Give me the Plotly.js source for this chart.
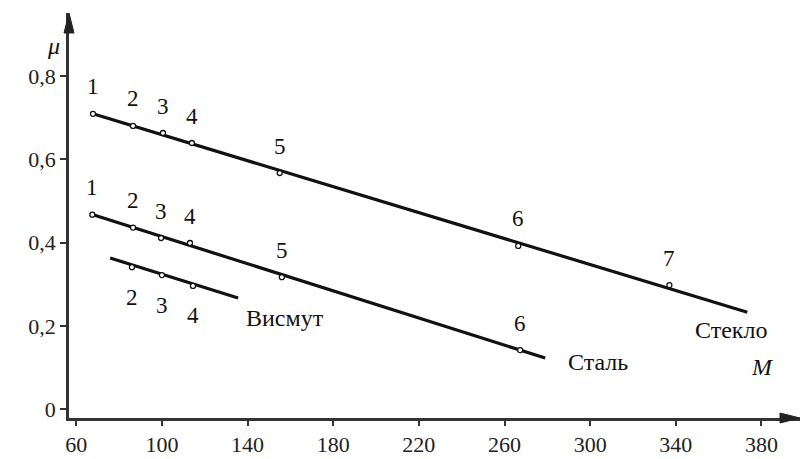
<!DOCTYPE html>
<html><head><meta charset="utf-8">
<script src="https://cdn.plot.ly/plotly-3.0.1.min.js"></script>
</head><body style="margin:0;padding:0;background:#fff">
<div id="chart" style="width:803px;height:459px"></div>
<script>
// Стекло (glass)
const glassM  = [67.8, 86.5, 100.5, 114, 155, 266.4, 337];
const glassMu = [0.709, 0.680, 0.663, 0.639, 0.567, 0.392, 0.298];
const glassLabels = ['1','2','3','4','5','6','7'];
const glassLineM  = [67.8, 373.4];
const glassLineMu = [0.709, 0.233];
// Сталь (steel)
const steelM  = [67.5, 86.5, 99.6, 113.1, 156, 267.3];
const steelMu = [0.467, 0.436, 0.411, 0.399, 0.317, 0.142];
const steelLabels = ['1','2','3','4','5','6'];
const steelLineM  = [66.4, 279];
const steelLineMu = [0.469, 0.123];
// Висмут (bismuth)
const bismM  = [86, 100, 114.5];
const bismMu = [0.341, 0.322, 0.296];
const bismLabels = ['2','3','4'];
const bismLineM  = [75.8, 135.6];
const bismLineMu = [0.363, 0.267];

const xTicks = [60, 100, 140, 180, 220, 260, 300, 340, 380];
const yTicks = [0, 0.2, 0.4, 0.6, 0.8];
const yTickText = ['0', '0,2', '0,4', '0,6', '0,8'];

const FONT = 'Liberation Serif';
const INK = '#111';

function lineTrace(x, y) {
  return {x: x, y: y, mode: 'lines', type: 'scatter', hoverinfo: 'skip',
          line: {color: INK, width: 3.2}, showlegend: false};
}
function pointTrace(x, y) {
  return {x: x, y: y, mode: 'markers', type: 'scatter', hoverinfo: 'skip',
          marker: {symbol: 'circle', size: 5, color: '#fff', line: {color: INK, width: 1.3}},
          showlegend: false};
}

const traces = [
  lineTrace(glassLineM, glassLineMu), pointTrace(glassM, glassMu),
  lineTrace(steelLineM, steelLineMu), pointTrace(steelM, steelMu),
  lineTrace(bismLineM, bismLineMu), pointTrace(bismM, bismMu)
];

const annotations = [];
function numLabels(xs, ys, labs, shift) {
  for (let i = 0; i < xs.length; i++) {
    annotations.push({x: xs[i], y: ys[i], xref: 'x', yref: 'y', text: labs[i],
      showarrow: false, yshift: shift, font: {family: FONT, size: 23, color: INK}});
  }
}
numLabels(glassM, glassMu, glassLabels, 27);
numLabels(steelM, steelMu, steelLabels, 27);
numLabels(bismM, bismMu, bismLabels, -30);

annotations.push({x: 157.5, y: 0.219, xref: 'x', yref: 'y', text: 'Висмут', showarrow: false,
  font: {family: FONT, size: 24, color: INK}});
annotations.push({x: 303.8, y: 0.113, xref: 'x', yref: 'y', text: 'Сталь', showarrow: false,
  font: {family: FONT, size: 24, color: INK}});
annotations.push({x: 366, y: 0.19, xref: 'x', yref: 'y', text: 'Стекло', showarrow: false,
  font: {family: FONT, size: 24, color: INK}});
annotations.push({x: -0.033, y: 0.956, xref: 'paper', yref: 'paper', text: '<i>μ</i>', showarrow: false,
  font: {family: FONT, size: 24, color: INK}});
annotations.push({x: 0.967, y: 0.089, xref: 'paper', yref: 'paper', text: '<i>M</i>', showarrow: false,
  font: {family: FONT, size: 24, color: INK}});

const shapes = [
  {type: 'path', xref: 'paper', yref: 'paper', xsizemode: 'pixel', ysizemode: 'pixel',
   xanchor: 0, yanchor: 1, path: 'M -5 -20 L 0 0 L 5 -20 Z',
   fillcolor: '#222', line: {color: '#222', width: 1}},
  {type: 'path', xref: 'paper', yref: 'paper', xsizemode: 'pixel', ysizemode: 'pixel',
   xanchor: 1, yanchor: 0, path: 'M -20 5 L 0 0 L -20 -5 Z',
   fillcolor: '#222', line: {color: '#222', width: 1}}
];

const layout = {
  width: 803, height: 459,
  margin: {l: 69, r: 3, t: 13, b: 41},
  paper_bgcolor: '#fff', plot_bgcolor: '#fff',
  showlegend: false,
  font: {family: FONT, size: 22, color: '#222'},
  xaxis: {range: [56.6, 398], tickvals: xTicks, ticks: 'outside', ticklen: 5, tickwidth: 1.5,
          tickcolor: '#333', showline: true, linecolor: '#333', linewidth: 2.5,
          showgrid: false, zeroline: false, tickfont: {family: FONT, size: 22, color: '#222'}},
  yaxis: {range: [-0.021, 0.951], tickvals: yTicks, ticktext: yTickText,
          ticks: 'outside', ticklen: 6, tickwidth: 1.5,
          tickcolor: '#333', showline: true, linecolor: '#333', linewidth: 2.5,
          showgrid: false, zeroline: false, tickfont: {family: FONT, size: 22, color: '#222'}},
  annotations: annotations,
  shapes: shapes
};

Plotly.newPlot('chart', traces, layout, {displayModeBar: false});
</script>
</body></html>
